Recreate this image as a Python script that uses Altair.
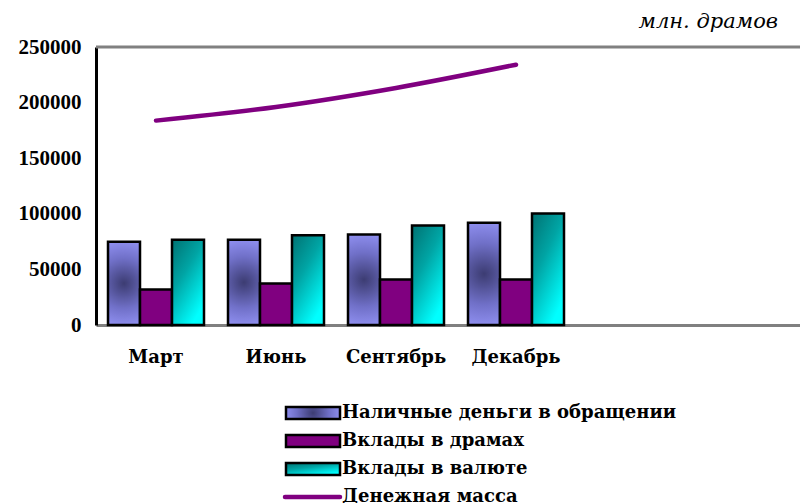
import altair as alt
import pandas as pd

categories = ["Март", "Июнь", "Сентябрь", "Декабрь", " ", "  "]
months = categories[:4]
series = ["Наличные деньги в обращении", "Вклады в драмах", "Вклады в валюте"]
cash = [74900, 76700, 81400, 92000]
dram_dep = [32000, 37400, 41000, 41000]
fx_dep = [76700, 80800, 89500, 100300]
line_name = "Денежная масса"
money = [183800, 196100, 213200, 234100]
unit_label = "млн. драмов"
y_ticks = [0, 50000, 100000, 150000, 200000, 250000]

FONT = "DejaVu Serif"
NUM_FONT = "Liberation Serif"

rows = []
for s, vals in zip(series, [cash, dram_dep, fx_dep]):
    for m, v in zip(months, vals):
        rows.append({"month": m, "series": s, "value": v})
bars_df = pd.DataFrame(rows)
line_df = pd.DataFrame({"month": months, "value": money})

cash_grad = alt.RadialGradient(
    gradient="radial",
    stops=[alt.GradientStop(color="#3c3c72", offset=0),
           alt.GradientStop(color="#7070c8", offset=0.55),
           alt.GradientStop(color="#9494f6", offset=1)],
    x1=0.5, y1=0.5, r1=0, x2=0.5, y2=0.5, r2=0.55)
dram_fill = "#800080"
fx_grad = alt.LinearGradient(
    gradient="linear",
    stops=[alt.GradientStop(color="#007272", offset=0),
           alt.GradientStop(color="#00a4a4", offset=0.45),
           alt.GradientStop(color="#00ffff", offset=1)],
    x1=0, y1=0, x2=0.6, y2=1)
fills = [cash_grad, dram_fill, fx_grad]

x_scale = alt.Scale(domain=categories, paddingInner=0.2, paddingOuter=0.1, range=[0, 720])
y_scale = alt.Scale(domain=[0, 250000])

x_axis = alt.Axis(labelAngle=0, ticks=False, labelPadding=23, domainColor="#808080",
                  domainWidth=3, labelFont=FONT, labelFontWeight="bold", labelFontSize=18,
                  labelColor="black", title=None, grid=False)
y_axis = alt.Axis(values=y_ticks, format="d", ticks=False, labelPadding=15, domainColor="black",
                  domainWidth=3, labelFont=NUM_FONT, labelFontWeight="bold", labelFontSize=21,
                  labelColor="black", title=None, grid=False)

layers = []
top_rule = alt.Chart(pd.DataFrame({"v": [250000]})).mark_rule(
    color="#808080", strokeWidth=3).encode(y=alt.Y("v:Q", scale=y_scale, axis=y_axis))
layers.append(top_rule)

for s, f in zip(series, fills):
    layers.append(
        alt.Chart(bars_df[bars_df.series == s]).mark_bar(
            fill=f, stroke="black", strokeWidth=2.5
        ).encode(
            x=alt.X("month:N", scale=x_scale, axis=x_axis, sort=categories),
            xOffset=alt.XOffset("series:N", scale=alt.Scale(domain=series)),
            y=alt.Y("value:Q", scale=y_scale, axis=y_axis),
        )
    )

layers.append(
    alt.Chart(line_df).mark_line(color="#800080", strokeWidth=4.5, strokeCap="round",
                                 interpolate="monotone").encode(
        x=alt.X("month:N", scale=x_scale, axis=x_axis, sort=categories),
        y=alt.Y("value:Q", scale=y_scale, axis=y_axis),
    )
)

# manual legend
leg_names = series + [line_name]
leg_y0 = 366
leg_step = 28
for i, (name, f) in enumerate(zip(series, fills)):
    yc = leg_y0 + leg_step * i
    layers.append(
        alt.Chart(pd.DataFrame({"k": [name]})).mark_rect(
            fill=f, stroke="black", strokeWidth=2.5
        ).encode(x=alt.value(190), x2=alt.value(244), y=alt.value(yc - 6), y2=alt.value(yc + 6))
    )
yl = leg_y0 + leg_step * 3
layers.append(
    alt.Chart(pd.DataFrame({"k": [line_name]})).mark_rule(
        color="#800080", strokeWidth=4.5, strokeCap="round"
    ).encode(x=alt.value(189), x2=alt.value(244), y=alt.value(yl))
)
for i, name in enumerate(leg_names):
    layers.append(
        alt.Chart(pd.DataFrame({"label": [name]})).mark_text(
            align="left", baseline="middle", font=FONT, fontWeight="bold", fontSize=18, color="black"
        ).encode(x=alt.value(246), y=alt.value(leg_y0 + leg_step * i), text="label:N")
    )

layers.append(
    alt.Chart(pd.DataFrame({"t": [unit_label]})).mark_text(
        align="right", baseline="middle", font=FONT, fontStyle="italic", fontSize=21, color="black"
    ).encode(x=alt.value(682), y=alt.value(-25), text="t:N")
)

chart = alt.layer(*layers).properties(
    width=704, height=278,
    autosize=alt.AutoSizeParams(type="none"),
    padding={"left": 88, "top": 39, "right": 0, "bottom": 178},
).configure_view(stroke=None)

chart.save("out.html", embed_options={"renderer": "svg", "actions": False})
